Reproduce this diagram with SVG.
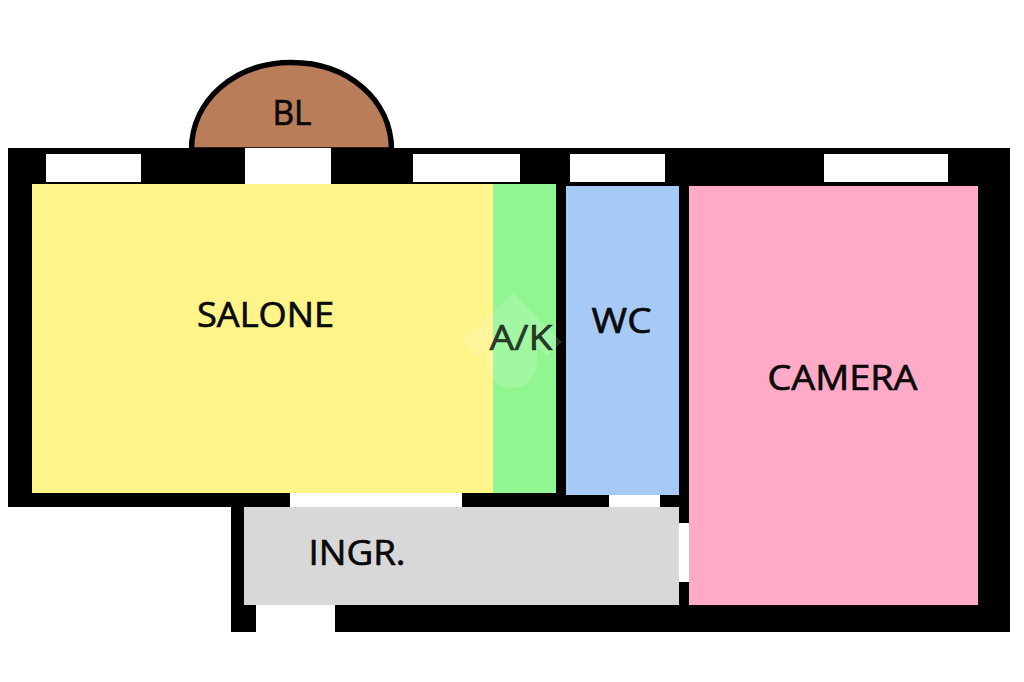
<svg xmlns="http://www.w3.org/2000/svg" width="1024" height="682" viewBox="0 0 1024 682">
<style>
.w{fill:#fff}
.k{fill:#000}
text{font-family:"Open Sans","Noto Sans","Liberation Sans",sans-serif;fill:#0a0a0a;stroke:#0a0a0a;stroke-width:.7;font-size:34px}
</style>
<rect width="1024" height="682" fill="#fff"/>
<g id="balcone">
<path d="M191.500 150C191.500 100 235 62.500 291.500 62.500S391.500 100 391.500 150Z" fill="#b97d5a" stroke="#000" stroke-width="5.500"/>
</g>
<g id="muri">
<rect class="k" x="8" y="148" width="1002" height="359"/>
<rect class="k" x="231" y="500" width="779" height="132"/>
<rect class="k" x="679" y="148" width="331" height="484"/>
</g>
<g id="aperture">
<rect class="w" x="46" y="154" width="95" height="28"/>
<rect class="w" x="245" y="148" width="86" height="36"/>
<rect class="w" x="413" y="154" width="107" height="28"/>
<rect class="w" x="570" y="154" width="95" height="28"/>
<rect class="w" x="824" y="154" width="124" height="28"/>
<rect class="w" x="290" y="493" width="172" height="14"/>
<rect class="w" x="609" y="495" width="51" height="12"/>
<rect class="w" x="679" y="523" width="10" height="59"/>
<rect class="w" x="256" y="605" width="79" height="27"/>
</g>
<g id="salone"><rect x="32" y="184" width="461" height="309" fill="#fff48a"/></g>
<g id="ak"><rect x="493" y="184" width="63" height="309" fill="#8ff691"/></g>
<g id="wc"><rect x="566" y="186" width="113" height="309" fill="#a6c9f5"/></g>
<g id="camera"><rect x="689" y="186" width="289" height="419" fill="#ffaac6"/></g>
<g id="ingr"><rect x="244" y="507" width="435" height="98" fill="#d8d8d8"/></g>
<g id="filigrana" fill="#fff" fill-opacity=".16">
<path d="M513 293L562 342L547 356L537 347V362A25 26 0 0 1 487 362V349L478 356L463 341Z"/>
</g>
<g id="etichette">
<text x="292" y="125" text-anchor="middle" textLength="39" lengthAdjust="spacingAndGlyphs">BL</text>
<text x="265.500" y="327" text-anchor="middle" textLength="137" lengthAdjust="spacingAndGlyphs">SALONE</text>
<text x="521" y="350" text-anchor="middle" textLength="63" lengthAdjust="spacingAndGlyphs" style="fill-opacity:.78;stroke-opacity:.78">A/K</text>
<text x="621.500" y="333" text-anchor="middle" textLength="60" lengthAdjust="spacingAndGlyphs">WC</text>
<text x="842.500" y="390" text-anchor="middle" textLength="150" lengthAdjust="spacingAndGlyphs">CAMERA</text>
<text x="357" y="565" text-anchor="middle" textLength="97" lengthAdjust="spacingAndGlyphs">INGR.</text>
</g>
</svg>
